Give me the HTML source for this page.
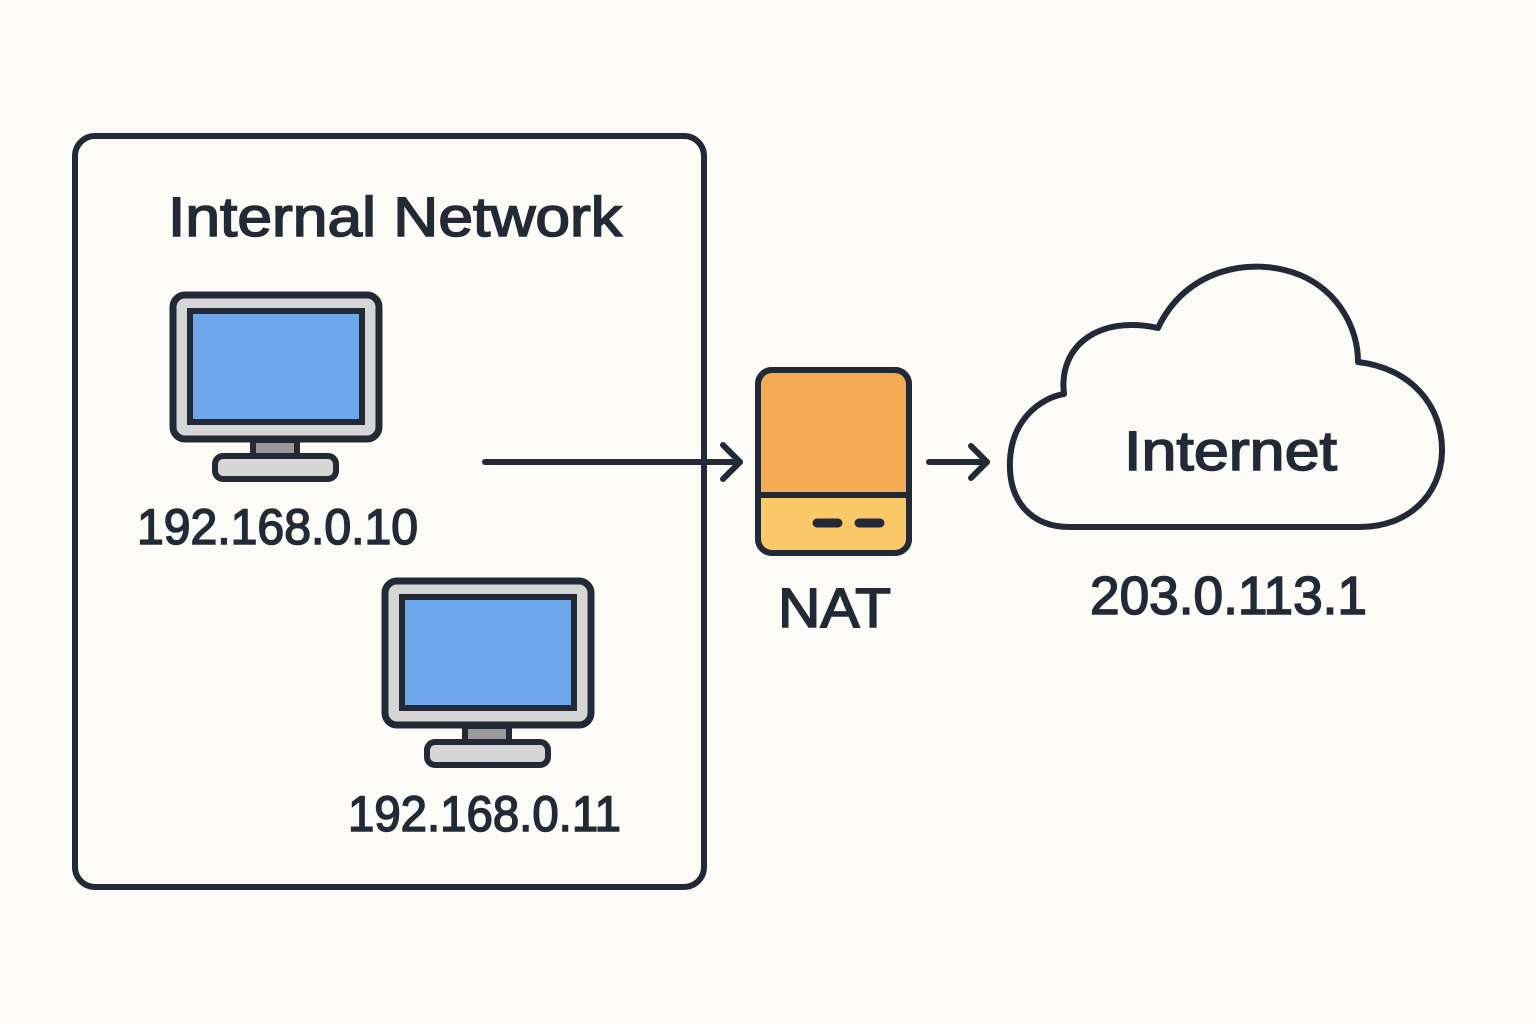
<!DOCTYPE html>
<html><head><meta charset="utf-8"><style>
html,body{margin:0;padding:0;background:#fcfbf7;}
svg{display:block}
text{font-family:"Liberation Sans","DejaVu Sans",sans-serif;fill:#232a35;stroke:#232a35;stroke-width:1.6;}
</style></head><body>
<svg width="1536" height="1024" viewBox="0 0 1536 1024">
<rect width="1536" height="1024" fill="#fcfbf7"/>
<rect x="75" y="136" width="629" height="751" rx="20" fill="none" stroke="#232a35" stroke-width="6"/>
<text x="168" y="236" font-size="56" textLength="454" lengthAdjust="spacingAndGlyphs">Internal Network</text>
<g id="m1" stroke="#232a35" stroke-width="7">
<rect x="173" y="295" width="206" height="144" rx="12" fill="#d6d6d6"/>
<rect x="190" y="311" width="172" height="111" fill="#6fa8ea" stroke-width="6"/>
<rect x="253" y="440" width="44" height="16" fill="#9b9b9b" stroke-width="6"/>
<rect x="215" y="456" width="121" height="23" rx="8" fill="#d6d6d6" stroke-width="6"/>
</g>
<use href="#m1" transform="translate(212,286)"/>
<text x="137" y="544" font-size="50" textLength="281" lengthAdjust="spacingAndGlyphs">192.168.0.10</text>
<text x="348" y="831" font-size="50" textLength="273" lengthAdjust="spacingAndGlyphs">192.168.0.11</text>
<g stroke="#232a35" stroke-width="6" fill="none" stroke-linecap="round" stroke-linejoin="round">
<line x1="485" y1="462" x2="740" y2="462"/>
<polyline points="723,445 740,462 723,479"/>
<line x1="929" y1="462" x2="987" y2="462"/>
<polyline points="971,446 987,462 971,478"/>
</g>
<rect x="758" y="370" width="151" height="183" rx="14" fill="#f3ab54" stroke="#232a35" stroke-width="6"/>
<path d="M761 495 H906 V538 Q906 550 894 550 H773 Q761 550 761 538 Z" fill="#fbc96a"/>
<line x1="760" y1="495" x2="907" y2="495" stroke="#232a35" stroke-width="6"/>
<rect x="758" y="370" width="151" height="183" rx="14" fill="none" stroke="#232a35" stroke-width="6"/>
<g stroke="#232a35" stroke-width="9" stroke-linecap="round"><line x1="817" y1="523" x2="838" y2="523"/><line x1="859" y1="523" x2="880" y2="523"/></g>
<text x="778" y="627" font-size="56" textLength="113" lengthAdjust="spacingAndGlyphs">NAT</text>
<path d="M1070 527 C1030 527 1008 500 1010 460 C1012 420 1040 398 1064 394 C1058 345 1100 315 1158 328 C1185 270 1250 255 1300 275 C1340 292 1358 330 1358 362 C1410 368 1443 405 1442 452 C1441 495 1408 527 1360 527 Z" fill="#fcfbf7" stroke="#232a35" stroke-width="6" stroke-linejoin="round"/>
<text x="1124" y="470" font-size="56" textLength="213" lengthAdjust="spacingAndGlyphs">Internet</text>
<text x="1090" y="614" font-size="54" textLength="277" lengthAdjust="spacingAndGlyphs">203.0.113.1</text>
</svg>
</body></html>
